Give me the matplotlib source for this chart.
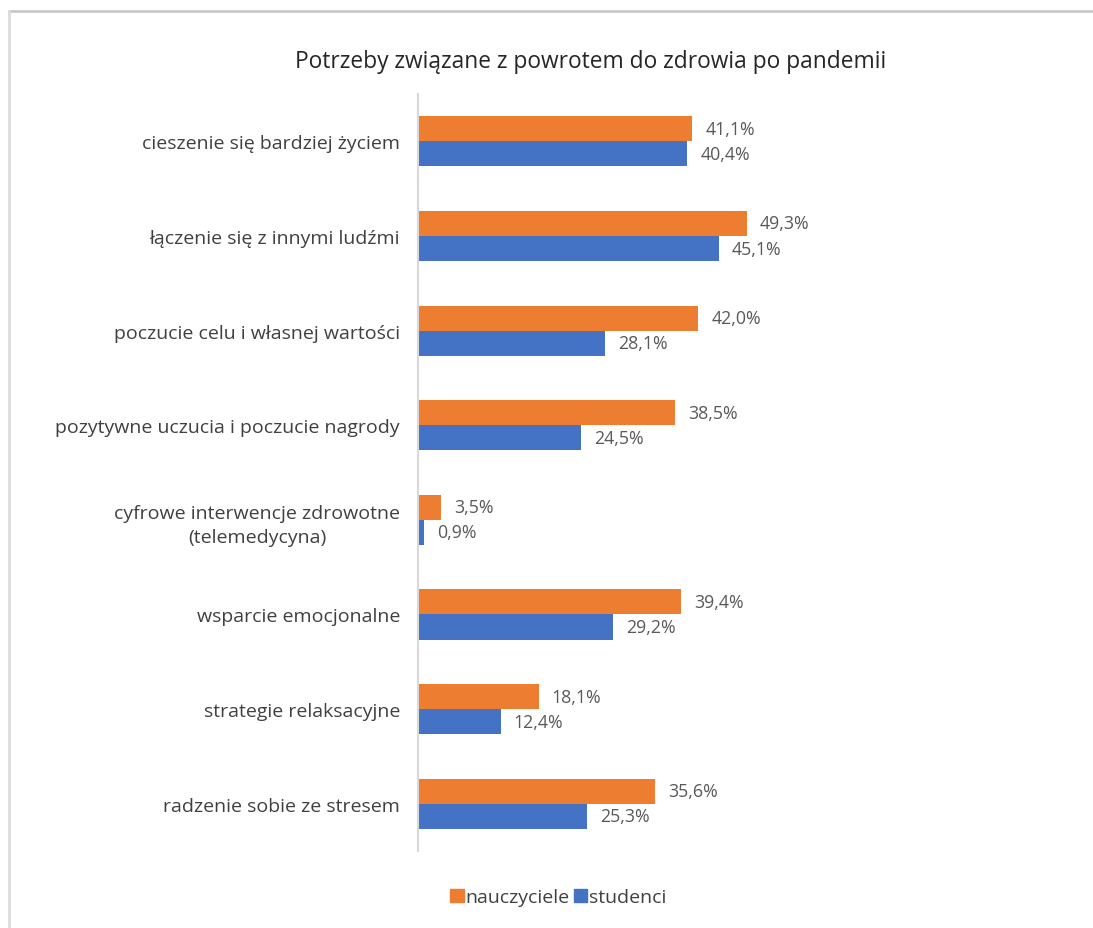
import numpy as np
import matplotlib.pyplot as plt
from matplotlib.lines import Line2D
from matplotlib.patches import Patch

plt.rcParams['font.family'] = ['Open Sans', 'DejaVu Sans']

categories = [
    "cieszenie się bardziej życiem",
    "łączenie się z innymi ludźmi",
    "poczucie celu i własnej wartości",
    "pozytywne uczucia i poczucie nagrody",
    "cyfrowe interwencje zdrowotne\n(telemedycyna)",
    "wsparcie emocjonalne",
    "strategie relaksacyjne",
    "radzenie sobie ze stresem",
]
nauczyciele = [41.1, 49.3, 42.0, 38.5, 3.5, 39.4, 18.1, 35.6]
studenci = [40.4, 45.1, 28.1, 24.5, 0.9, 29.2, 12.4, 25.3]

orange = "#ED7D31"
blue = "#4472C4"
text_col = "#595959"

fig = plt.figure(figsize=(10.93, 9.29), dpi=100)
ax = fig.add_axes([0.3824, 0.0829, 0.549, 0.8148])

y = np.arange(len(categories))
h = 0.265
ax.barh(y - h / 2, nauczyciele, height=h, color=orange, label="nauczyciele")
ax.barh(y + h / 2, studenci, height=h, color=blue, label="studenci")

for yi, v in zip(y, nauczyciele):
    ax.annotate(f"{v:.1f}%".replace(".", ","), (v, yi - h / 2), xytext=(9.5, 0),
                textcoords="offset points", va="center", ha="left",
                fontsize=12.8, color=text_col)
for yi, v in zip(y, studenci):
    ax.annotate(f"{v:.1f}%".replace(".", ","), (v, yi + h / 2), xytext=(9.5, 0),
                textcoords="offset points", va="center", ha="left",
                fontsize=12.8, color=text_col)

ax.set_ylim(len(categories) - 0.5, -0.5)
ax.set_xlim(0, 90)
ax.set_yticks(y)
ax.set_yticklabels(categories, fontsize=14, color="#404040",
                   multialignment="center", linespacing=1.45)
ax.tick_params(axis="y", length=0, pad=13)
ax.set_xticks([])
for s in ["top", "right", "bottom"]:
    ax.spines[s].set_visible(False)
ax.spines["left"].set_color("#d9d9d9")
ax.spines["left"].set_linewidth(1.5)

fig.text(0.540, 0.933, "Potrzeby związane z powrotem do zdrowia po pandemii",
         ha="center", va="center", fontsize=16.4, color="#262626")

handles = [Patch(color=orange, label="nauczyciele"), Patch(color=blue, label="studenci")]
fig.legend(handles=handles, loc="center", bbox_to_anchor=(0.511, 0.033), ncol=2,
           frameon=False, fontsize=14, handlelength=0.7, handleheight=0.7,
           handletextpad=0.1, columnspacing=0.2, labelcolor="#404040")

# light frame around the chart area
fig.add_artist(Line2D([9 / 1093, 1], [1 - 12 / 929, 1 - 12 / 929], color="#c8c8c8", lw=2))
fig.add_artist(Line2D([9 / 1093, 9 / 1093], [0, 1 - 12 / 929], color="#dcdcdc", lw=2))

fig.savefig("out.png", dpi=100)
